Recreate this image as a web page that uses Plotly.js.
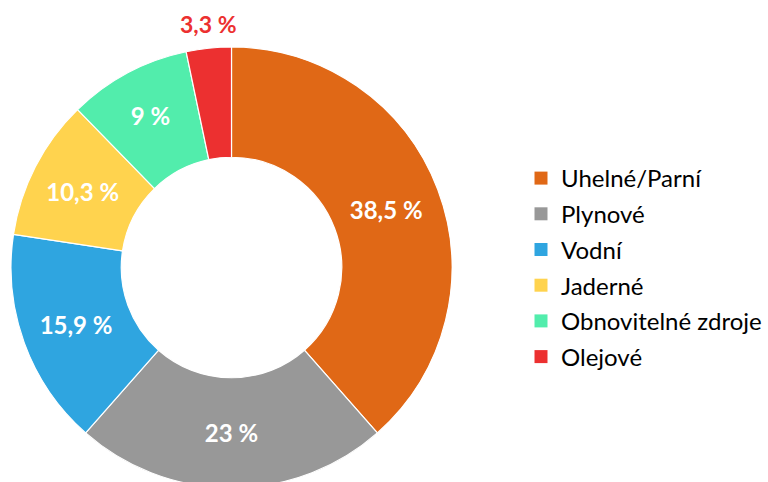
<!DOCTYPE html>
<html>
<head>
<meta charset="utf-8">
<script src="https://cdn.plot.ly/plotly-3.0.1.min.js"></script>
<style>
html,body{margin:0;padding:0;overflow:hidden;background:#fff;}
#chart{width:768px;height:488px;}
</style>
</head>
<body>
<div id="chart"></div>
<script>
const labels = ["Uhelné/Parní", "Plynové", "Vodní", "Jaderné", "Obnovitelné zdroje", "Olejové"];
const values = [38.5, 23, 15.9, 10.3, 9, 3.3];
const colors = ["#E06816", "#989898", "#2FA5E0", "#FFD34E", "#52EDAC", "#EC3030"];
// the last (small) slice has its label above the ring
const outsideIndex = 5;

const W = 768, H = 488, T = 47, B = 0;
const domX = [11 / W, 452 / W];
const fmt = v => String(v).replace(".", ",") + " %";

const pie = {
  type: "pie",
  labels: labels,
  values: values,
  sort: false,
  direction: "clockwise",
  rotation: 0,
  hole: 0.5,
  marker: {colors: colors, line: {color: "#ffffff", width: 1.2}},
  text: values.map((v, i) => i === outsideIndex ? "" : fmt(v)),
  texttemplate: "%{text}",
  textposition: "inside",
  insidetextorientation: "horizontal",
  insidetextfont: {family: "Lato, sans-serif", size: 24, color: "#ffffff", weight: "bold"},
  showlegend: false,
  hoverinfo: "label+percent",
  domain: {x: domX, y: [0, 1]}
};

const legendTraces = labels.map((lab, i) => ({
  type: "scatter",
  mode: "markers",
  x: [null], y: [null],
  name: lab,
  legendgroup: "g" + i,
  marker: {symbol: "square", size: 13, color: colors[i]},
  showlegend: true,
  hoverinfo: "skip"
}));

// position of the outside label: middle angle of the slice, derived from the data
const total = values.reduce((a, b) => a + b, 0);
const before = values.slice(0, outsideIndex).reduce((a, b) => a + b, 0);
const theta = 2 * Math.PI * (before + values[outsideIndex] / 2) / total;
const plotH = H - T - B;
const cxPaper = (domX[0] + domX[1]) / 2;
const rPx = Math.min((domX[1] - domX[0]) * W, plotH) / 2;
const annX = cxPaper + rPx * Math.sin(theta) / W;
const annY = 0.5 + rPx * Math.cos(theta) / plotH;

const layout = {
  width: W,
  height: H,
  margin: {l: 0, r: 0, t: T, b: B, pad: 0},
  paper_bgcolor: "#ffffff",
  plot_bgcolor: "#ffffff",
  font: {family: "Lato, sans-serif", color: "#000000"},
  xaxis: {visible: false},
  yaxis: {visible: false},
  showlegend: true,
  legend: {
    x: 521 / W, xanchor: "left",
    y: 0.5, yanchor: "middle",
    traceorder: "grouped",
    tracegroupgap: 1.5,
    font: {family: "Lato, sans-serif", size: 24, color: "#000000"},
    bgcolor: "rgba(0,0,0,0)"
  },
  annotations: [{
    xref: "paper", yref: "paper",
    x: annX, y: annY,
    xanchor: "center", yanchor: "bottom",
    yshift: 8,
    showarrow: false,
    text: "<b>" + fmt(values[outsideIndex]) + "</b>",
    font: {family: "Lato, sans-serif", size: 23, color: "#EC3030"}
  }]
};

Plotly.newPlot("chart", [pie].concat(legendTraces), layout, {displayModeBar: false, staticPlot: true});
</script>
</body>
</html>
